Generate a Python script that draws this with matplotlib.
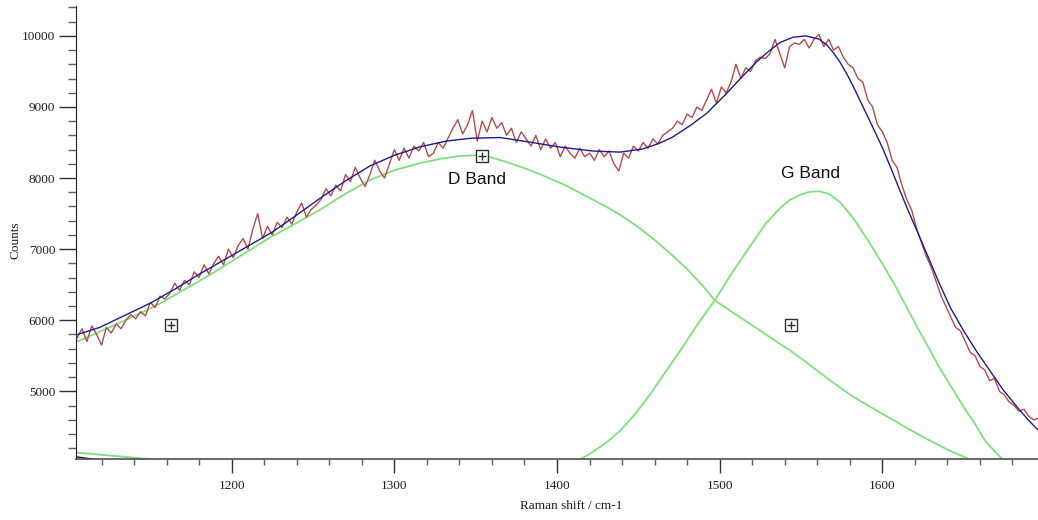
import numpy as np
import matplotlib
matplotlib.use("Agg")
import matplotlib.pyplot as plt
from matplotlib.ticker import MultipleLocator

# measured spectrum, sampled every 3 cm-1 from 1105
spec_start = 1105
spec_step = 3
spec_counts = [
    5750, 5880, 5700, 5920, 5800, 5650, 5900, 5820, 5950, 5880,
    6000, 6080, 6020, 6120, 6060, 6250, 6180, 6340, 6300, 6380,
    6520, 6420, 6560, 6500, 6680, 6600, 6780, 6650, 6800, 6900,
    6780, 7000, 6880, 7050, 7150, 7000, 7280, 7500, 7150, 7320,
    7200, 7380, 7300, 7450, 7350, 7520, 7650, 7450, 7560, 7620,
    7700, 7850, 7750, 7900, 7820, 8050, 7950, 8150, 8000, 7880,
    8050, 8250, 8100, 8000, 8200, 8400, 8250, 8420, 8280, 8450,
    8380, 8500, 8300, 8350, 8500, 8420, 8560, 8700, 8820, 8620,
    8750, 8950, 8520, 8800, 8650, 8850, 8700, 8780, 8600, 8700,
    8500, 8650, 8550, 8450, 8600, 8400, 8550, 8420, 8500, 8300,
    8450, 8350, 8280, 8420, 8300, 8350, 8250, 8400, 8300, 8380,
    8200, 8100, 8350, 8280, 8450, 8380, 8500, 8420, 8550, 8480,
    8600, 8650, 8700, 8800, 8750, 8900, 8850, 9000, 8950, 9100,
    9250, 9050, 9280, 9200, 9350, 9600, 9400, 9550, 9500, 9650,
    9700, 9680, 9750, 9950, 9750, 9550, 9850, 9900, 9880, 9950,
    9830, 9950, 10020, 9850, 9950, 9800, 9850, 9700, 9600, 9550,
    9400, 9350, 9100, 9000, 8750, 8650, 8500, 8250, 8150, 7900,
    7700, 7550, 7300, 7100, 6900, 6750, 6550, 6350, 6200, 6050,
    5900, 5850, 5700, 5550, 5500, 5350, 5300, 5150, 5180, 5000,
    4950, 4850, 4800, 4720, 4750, 4650, 4600, 4620,
]

# cumulative fit
fit_x = [1104, 1119, 1134, 1150, 1166, 1181, 1197, 1211, 1225, 1240,
         1254, 1270, 1285, 1300, 1316, 1332, 1347, 1365, 1382, 1402,
         1422, 1439, 1453, 1463, 1471, 1482, 1492, 1503, 1513, 1523,
         1530, 1537, 1545, 1553, 1561, 1566, 1570, 1574, 1579, 1584,
         1589, 1594, 1600, 1605, 1610, 1615, 1622, 1629, 1635, 1642,
         1650, 1658, 1666, 1674, 1683, 1690, 1696]
fit_y = [5790, 5900, 6065, 6240, 6450, 6660, 6870, 7055, 7240, 7480,
         7710, 7960, 8170, 8320, 8440, 8520, 8560, 8570, 8510, 8435,
         8380, 8365, 8410, 8490, 8575, 8740, 8910, 9160, 9405, 9640,
         9780, 9905, 9980, 10000, 9955, 9870, 9760, 9630, 9430, 9200,
         8960, 8720, 8430, 8155, 7870, 7590, 7220, 6845, 6520, 6170,
         5850, 5560, 5295, 5030, 4775, 4590, 4450]

# D band component
d_x = [1104, 1130, 1154, 1170, 1186, 1205, 1224, 1240, 1254, 1270,
       1285, 1300, 1316, 1328, 1340, 1350, 1359, 1371, 1381, 1391,
       1405, 1420, 1430, 1439, 1450, 1460, 1470, 1480, 1489, 1497,
       1508, 1520, 1531, 1543, 1552, 1560, 1570, 1580, 1592, 1605,
       1617, 1629, 1641, 1654]
d_y = [5690, 5950, 6210, 6420, 6630, 6900, 7170, 7370, 7550, 7780,
       7970, 8110, 8210, 8270, 8310, 8320, 8295, 8210, 8130, 8040,
       7900, 7720, 7600, 7480, 7310, 7130, 6930, 6720, 6500, 6280,
       6110, 5930, 5760, 5580, 5430, 5290, 5120, 4955, 4790, 4620,
       4460, 4310, 4170, 4040]

# G band component
g_x = [1414, 1420, 1427, 1433, 1439, 1448, 1457, 1466, 1476, 1486,
       1497, 1508, 1519, 1528, 1537, 1543, 1549, 1555, 1561, 1567,
       1574, 1582, 1591, 1597, 1603, 1609, 1615, 1622, 1629, 1636,
       1643, 1650, 1657, 1663, 1669, 1674]
g_y = [4040, 4120, 4225, 4330, 4450, 4680, 4950, 5250, 5580, 5930,
       6280, 6680, 7050, 7350, 7575, 7690, 7760, 7805, 7815, 7780,
       7660, 7440, 7130, 6910, 6680, 6440, 6180, 5880, 5590, 5300,
       5040, 4780, 4540, 4310, 4160, 4040]

# baseline pieces at the lower left
base_x = [1104, 1158]
base_y = [4140, 4030]
tail_x = [1104, 1119]
tail_y = [4080, 4035]

# peak handles
handle_x = [1163, 1354, 1544]
handle_y = [5930, 8310, 5930]

band_labels = ["D Band", "G Band"]
band_label_x = [1351, 1556]
band_label_y = [7985, 8070]

fig = plt.figure(figsize=(10.38, 5.20), dpi=100)
ax = fig.add_axes([0.0732, 0.1167, 0.9268, 0.8718])

green = "#7ee07e"
ax.plot(base_x, base_y, color=green, lw=1.3, zorder=2)
ax.plot(tail_x, tail_y, color="#202020", lw=1.0, zorder=2)
ax.plot(d_x, d_y, color=green, lw=1.3, zorder=2)
ax.plot(g_x, g_y, color=green, lw=1.3, zorder=2)

spec_x = spec_start + spec_step * np.arange(len(spec_counts))
ax.plot(spec_x, spec_counts, color="#b84a4a", lw=1.0, zorder=3)
ax.plot(fit_x, fit_y, color="#1c1c8c", lw=1.0, zorder=4)

ax.plot(handle_x, handle_y, ls="none", marker="s", ms=8.5, mfc="white",
        mec="#303030", mew=1.0, zorder=5)
ax.plot(handle_x, handle_y, ls="none", marker="+", ms=6, mec="#303030",
        mew=1.0, zorder=6)

for lab, lx, ly in zip(band_labels, band_label_x, band_label_y):
    ax.text(lx, ly, lab, ha="center", va="center", fontsize=12.5,
            family="Liberation Sans", color="#101010")

ax.set_xlim(1104.3, 1695.7)
ax.set_ylim(4044, 10420)

ax.xaxis.set_major_locator(MultipleLocator(100))
ax.xaxis.set_minor_locator(MultipleLocator(20))
ax.yaxis.set_major_locator(MultipleLocator(1000))
ax.yaxis.set_minor_locator(MultipleLocator(200))

ax.tick_params(axis="both", which="major", length=10, width=1.0,
               color="#303030", labelsize=9.5, labelcolor="#202020",
               direction="out")
ax.tick_params(axis="both", which="minor", length=4, width=1.0,
               color="#606060", direction="out")
ax.tick_params(axis="y", which="major", length=12, pad=3)
ax.tick_params(axis="y", which="minor", length=6)
ax.tick_params(axis="x", which="major", pad=5)
for lab in ax.get_xticklabels() + ax.get_yticklabels():
    lab.set_family("Liberation Serif")

for side in ["top", "right"]:
    ax.spines[side].set_visible(False)
ax.spines["left"].set_color("#202020")
ax.spines["bottom"].set_color("#505050")
ax.spines["bottom"].set_linewidth(1.2)

# axis titles placed in figure coordinates so they stay inside the canvas
fig.text(0.55, 0.027, "Raman shift / cm-1", ha="center", va="center",
         family="Liberation Serif", fontsize=9.5, color="#202020")
fig.text(0.0145, 0.538, "Counts", ha="center", va="center",
         rotation=90, family="Liberation Serif", fontsize=9.5,
         color="#202020")

fig.savefig("out.png", dpi=100)
